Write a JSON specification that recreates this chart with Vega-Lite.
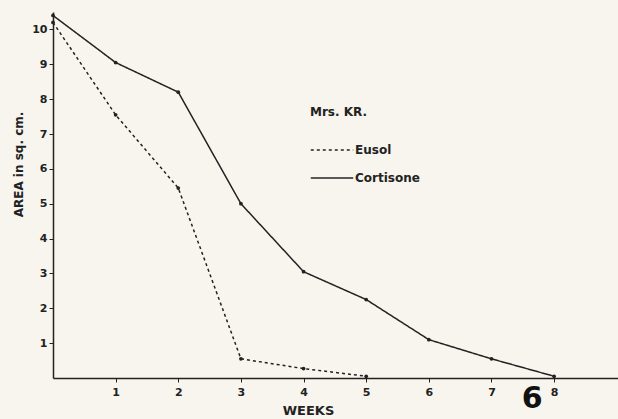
{
  "$schema": "https://vega.github.io/schema/vega-lite/v6.json",
  "width": 565,
  "height": 366,
  "autosize": {"type": "none"},
  "padding": {"left": 53, "top": 12, "right": 0, "bottom": 41},
  "background": "#f7f5ee",
  "config": {
    "view": {"stroke": null},
    "font": "DejaVu Sans",
    "axis": {"domainColor": "#222", "domainWidth": 1.5, "tickColor": "#222", "labelColor": "#222", "titleColor": "#222", "grid": false}
  },
  "datasets": {
    "series": [
      {"week": 0, "area": 10.4, "treatment": "Cortisone"},
      {"week": 1, "area": 9.05, "treatment": "Cortisone"},
      {"week": 2, "area": 8.2, "treatment": "Cortisone"},
      {"week": 3, "area": 5.0, "treatment": "Cortisone"},
      {"week": 4, "area": 3.05, "treatment": "Cortisone"},
      {"week": 5, "area": 2.25, "treatment": "Cortisone"},
      {"week": 6, "area": 1.1, "treatment": "Cortisone"},
      {"week": 7, "area": 0.55, "treatment": "Cortisone"},
      {"week": 8, "area": 0.05, "treatment": "Cortisone"},
      {"week": 0, "area": 10.2, "treatment": "Eusol"},
      {"week": 1, "area": 7.55, "treatment": "Eusol"},
      {"week": 2, "area": 5.45, "treatment": "Eusol"},
      {"week": 3, "area": 0.55, "treatment": "Eusol"},
      {"week": 4, "area": 0.27, "treatment": "Eusol"},
      {"week": 5, "area": 0.05, "treatment": "Eusol"}
    ],
    "fig": [{"week": 7.65, "area": -0.6, "label": "6"}]
  },
  "layer": [
    {
      "data": {"name": "series"},
      "mark": {"type": "line", "color": "#222", "strokeWidth": 1.5},
      "encoding": {
        "x": {"field": "week", "type": "quantitative",
              "scale": {"domain": [0, 9.02], "nice": false, "zero": false},
              "axis": {"values": [1,2,3,4,5,6,7,8], "format": "d", "title": "WEEKS", "titleFontSize": 13, "titleFontWeight": "bold", "titleX": 255, "titleY": 32, "titleBaseline": "middle", "labelFontSize": 11, "labelFontWeight": "bold", "labelPadding": 4, "tickSize": 4}},
        "y": {"field": "area", "type": "quantitative",
              "scale": {"domain": [0, 10.5], "nice": false},
              "axis": {"values": [1,2,3,4,5,6,7,8,9,10], "format": "d", "title": "AREA in sq. cm.", "titleFontSize": 12, "titleFontWeight": "bold", "titlePadding": 6, "titleY": 152, "labelFontSize": 11, "labelFontWeight": "bold", "labelPadding": 2, "tickSize": 4}},
        "strokeDash": {"field": "treatment", "type": "nominal",
              "scale": {"domain": ["Eusol", "Cortisone"], "range": [[3, 3], [1, 0]]},
              "legend": {"orient": "none", "legendX": 257, "legendY": 95, "title": "Mrs. KR.", "titleFontSize": 12, "titleFontWeight": "bold", "titleColor": "#222", "titlePadding": 9, "labelFontSize": 12, "labelFontWeight": "bold", "labelColor": "#222", "labelOffset": 1, "symbolType": "stroke", "symbolSize": 1800, "symbolStrokeWidth": 1.5, "symbolStrokeColor": "#222", "rowPadding": -3,
                "encode": {"symbols": {"update": {"stroke": {"value": "#222"}, "strokeWidth": {"value": 1.5}}}}}}
      }
    },
    {
      "data": {"name": "series"},
      "mark": {"type": "point", "filled": true, "size": 14, "color": "#222", "opacity": 1},
      "encoding": {
        "x": {"field": "week", "type": "quantitative"},
        "y": {"field": "area", "type": "quantitative"},
        "detail": {"field": "treatment"}
      }
    },
    {
      "data": {"name": "fig"},
      "mark": {"type": "text", "fontSize": 30, "fontWeight": "bold", "color": "#111"},
      "encoding": {
        "x": {"field": "week", "type": "quantitative"},
        "y": {"field": "area", "type": "quantitative"},
        "text": {"field": "label"}
      }
    }
  ]
}
